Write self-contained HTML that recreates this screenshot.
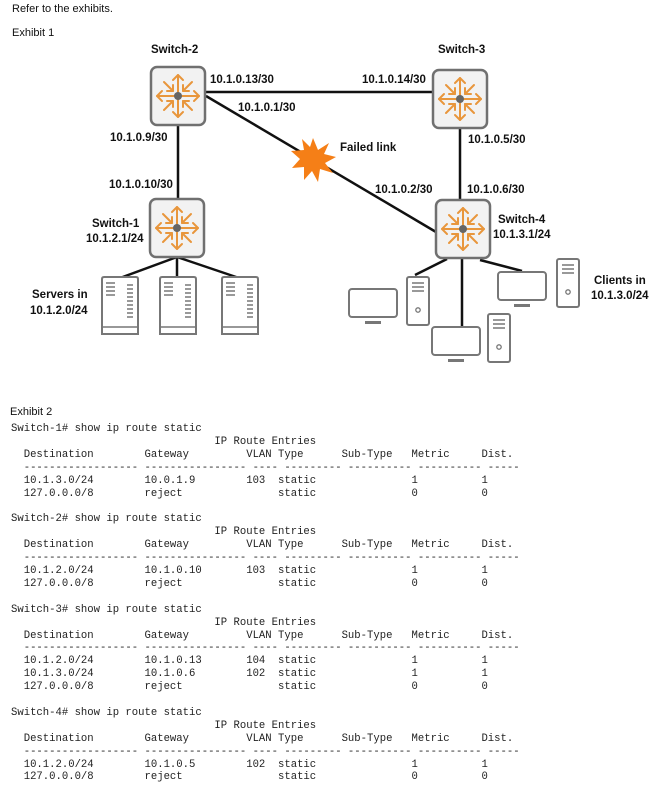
<!DOCTYPE html>
<html><head><meta charset="utf-8"><style>
body{margin:0;background:#fff;width:660px;height:786px;overflow:hidden;position:relative;font-family:"Liberation Sans",sans-serif}
.t{position:absolute;font-size:11px;color:#111;white-space:nowrap}
.b{position:absolute;font-size:11.5px;font-weight:bold;color:#111;white-space:nowrap}
pre{position:absolute;left:11px;top:423px;margin:0;font-family:"Liberation Mono",monospace;font-size:10.6px;line-height:12.9px;color:#222}
svg{position:absolute;left:0;top:0}
</style></head><body>
<svg width="660" height="400" viewBox="0 0 660 400">
<defs>
<g id="sw">
<rect x="-27" y="-29" width="54" height="58" rx="6" fill="#f2f2f2" stroke="#707070" stroke-width="2.5"/>
<g stroke="#e8963c" stroke-width="2" fill="none" stroke-linecap="round" stroke-linejoin="round">
<line x1="0" y1="-4" x2="0" y2="-21"/><polyline points="-5,-16 0,-21 5,-16"/>
<line x1="0" y1="4" x2="0" y2="21"/><polyline points="-5,16 0,21 5,16"/>
<line x1="-4" y1="0" x2="-21" y2="0"/><polyline points="-16,-5 -21,0 -16,5"/>
<line x1="4" y1="0" x2="21" y2="0"/><polyline points="16,-5 21,0 16,5"/>
<line x1="-14" y1="-14" x2="-5" y2="-5"/><polyline points="-5,-11 -5,-5 -11,-5"/>
<line x1="14" y1="-14" x2="5" y2="-5"/><polyline points="5,-11 5,-5 11,-5"/>
<line x1="-14" y1="14" x2="-5" y2="5"/><polyline points="-5,11 -5,5 -11,5"/>
<line x1="14" y1="14" x2="5" y2="5"/><polyline points="5,11 5,5 11,5"/>
</g>
<circle r="4" fill="#666"/>
</g>
<g id="srv">
<path d="M0,2 Q0,0 2,0 L34,0 Q36,0 36,2 L36,57 L0,57 Z" fill="#fff" stroke="#777" stroke-width="2"/>
<g stroke="#777" stroke-width="1.5">
<line x1="4" y1="6" x2="13" y2="6"/><line x1="4" y1="10" x2="13" y2="10"/><line x1="4" y1="14" x2="13" y2="14"/><line x1="4" y1="18" x2="13" y2="18"/>
<line x1="25" y1="8" x2="31" y2="8"/><line x1="25" y1="12" x2="31" y2="12"/><line x1="25" y1="16" x2="31" y2="16"/><line x1="25" y1="20" x2="31" y2="20"/><line x1="25" y1="24" x2="31" y2="24"/><line x1="25" y1="28" x2="31" y2="28"/><line x1="25" y1="32" x2="31" y2="32"/><line x1="25" y1="36" x2="31" y2="36"/><line x1="25" y1="40" x2="31" y2="40"/>
<line x1="0" y1="50" x2="36" y2="50"/>
</g></g>
<g id="mon">
<rect x="0" y="0" width="48" height="28" rx="3" fill="#fff" stroke="#777" stroke-width="2"/>
<rect x="16" y="32" width="16" height="3" fill="#777"/>
</g>
<g id="twr">
<rect x="0" y="0" width="22" height="48" rx="2" fill="#fff" stroke="#777" stroke-width="2"/>
<g stroke="#777" stroke-width="1.5"><line x1="5" y1="6" x2="17" y2="6"/><line x1="5" y1="10" x2="17" y2="10"/><line x1="5" y1="14" x2="17" y2="14"/></g>
<circle cx="11" cy="33" r="2.2" fill="none" stroke="#777" stroke-width="1.3"/>
</g>
</defs>
<g stroke="#111" stroke-width="2.5">
<line x1="206" y1="92" x2="432" y2="92"/>
<line x1="206" y1="96" x2="436" y2="232"/>
<line x1="178" y1="125" x2="178" y2="198"/>
<line x1="460" y1="128" x2="460" y2="200"/>
<line x1="177" y1="257" x2="120" y2="278"/>
<line x1="177" y1="257" x2="177" y2="278"/>
<line x1="177" y1="257" x2="242" y2="279"/>
<line x1="447" y1="259" x2="415" y2="275"/>
<line x1="462" y1="259" x2="462" y2="326"/>
<line x1="480" y1="260" x2="522" y2="271"/>
</g>
<polygon points="313,138 318,150 329,143 324,154 336,157 325,163 333,173 320,169 318,182 312,171 304,180 304,167 292,168 300,159 291,151 304,150 302,139 310,147" fill="#f57f17"/>
<use href="#sw" x="178" y="96"/>
<use href="#sw" x="460" y="99"/>
<use href="#sw" x="463" y="229"/>
<use href="#sw" x="177" y="228"/>
<use href="#srv" x="102" y="277"/>
<use href="#srv" x="160" y="277"/>
<use href="#srv" x="222" y="277"/>
<use href="#mon" x="349" y="289"/>
<use href="#twr" x="407" y="277"/>
<use href="#mon" x="432" y="327"/>
<use href="#twr" x="488" y="314"/>
<use href="#mon" x="498" y="272"/>
<use href="#twr" x="557" y="259"/>
</svg>
<div class="t" style="left:12px;top:3px">Refer to the exhibits.</div>
<div class="t" style="left:12px;top:27px">Exhibit 1</div>
<div class="b" style="left:151px;top:44px">Switch-2</div>
<div class="b" style="left:438px;top:44px">Switch-3</div>
<div class="b" style="left:210px;top:74px">10.1.0.13/30</div>
<div class="b" style="left:238px;top:102px">10.1.0.1/30</div>
<div class="b" style="left:362px;top:74px">10.1.0.14/30</div>
<div class="b" style="left:110px;top:132px">10.1.0.9/30</div>
<div class="b" style="left:109px;top:179px">10.1.0.10/30</div>
<div class="b" style="left:340px;top:142px">Failed link</div>
<div class="b" style="left:468px;top:134px">10.1.0.5/30</div>
<div class="b" style="left:375px;top:184px">10.1.0.2/30</div>
<div class="b" style="left:467px;top:184px">10.1.0.6/30</div>
<div class="b" style="left:498px;top:214px">Switch-4</div>
<div class="b" style="left:493px;top:229px">10.1.3.1/24</div>
<div class="b" style="left:92px;top:218px">Switch-1</div>
<div class="b" style="left:86px;top:233px">10.1.2.1/24</div>
<div class="b" style="left:32px;top:289px">Servers in</div>
<div class="b" style="left:30px;top:305px">10.1.2.0/24</div>
<div class="b" style="left:594px;top:275px">Clients in</div>
<div class="b" style="left:591px;top:290px">10.1.3.0/24</div>
<div class="t" style="left:10px;top:406px">Exhibit 2</div>
<pre>Switch-1# show ip route static
                                IP Route Entries
  Destination        Gateway         VLAN Type      Sub-Type   Metric     Dist.
  ------------------ ---------------- ---- --------- ---------- ---------- -----
  10.1.3.0/24        10.0.1.9        103  static               1          1
  127.0.0.0/8        reject               static               0          0

Switch-2# show ip route static
                                IP Route Entries
  Destination        Gateway         VLAN Type      Sub-Type   Metric     Dist.
  ------------------ ---------------- ---- --------- ---------- ---------- -----
  10.1.2.0/24        10.1.0.10       103  static               1          1
  127.0.0.0/8        reject               static               0          0

Switch-3# show ip route static
                                IP Route Entries
  Destination        Gateway         VLAN Type      Sub-Type   Metric     Dist.
  ------------------ ---------------- ---- --------- ---------- ---------- -----
  10.1.2.0/24        10.1.0.13       104  static               1          1
  10.1.3.0/24        10.1.0.6        102  static               1          1
  127.0.0.0/8        reject               static               0          0

Switch-4# show ip route static
                                IP Route Entries
  Destination        Gateway         VLAN Type      Sub-Type   Metric     Dist.
  ------------------ ---------------- ---- --------- ---------- ---------- -----
  10.1.2.0/24        10.1.0.5        102  static               1          1
  127.0.0.0/8        reject               static               0          0
</pre>
</body></html>
